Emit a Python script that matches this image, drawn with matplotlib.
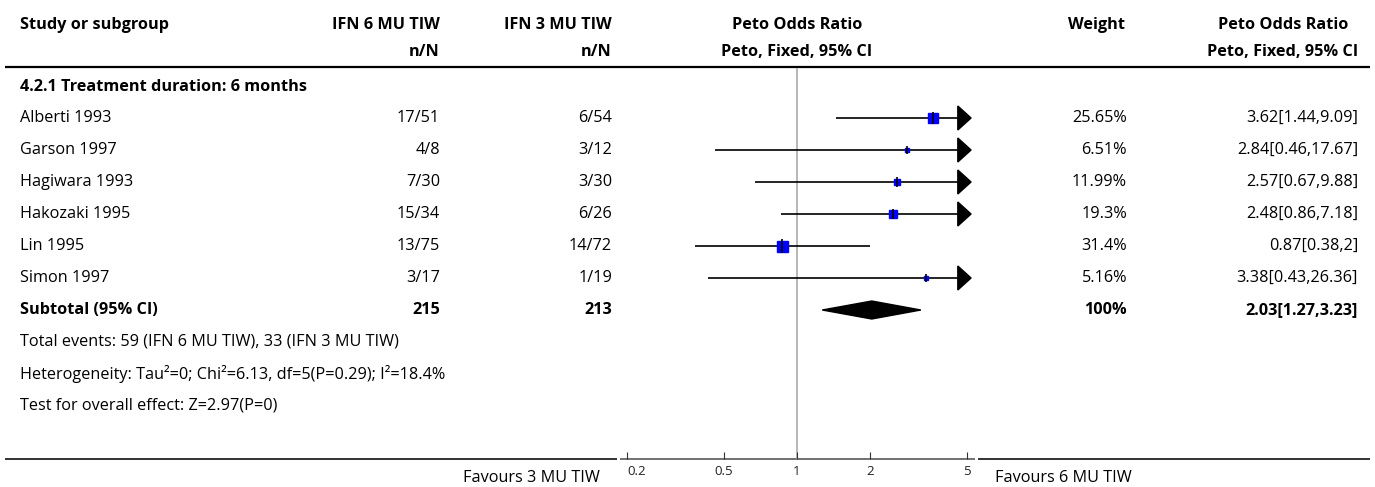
import numpy as np
import matplotlib.pyplot as plt
from matplotlib.patches import Polygon

plt.rcParams['font.family'] = ['Open Sans', 'DejaVu Sans']

# ---- data -----------------------------------------------------------------
studies = ["Alberti 1993", "Garson 1997", "Hagiwara 1993", "Hakozaki 1995", "Lin 1995", "Simon 1997"]
exp_nN = ["17/51", "4/8", "7/30", "15/34", "13/75", "3/17"]
ctl_nN = ["6/54", "3/12", "3/30", "6/26", "14/72", "1/19"]
or_est = [3.62, 2.84, 2.57, 2.48, 0.87, 3.38]
or_lo = [1.44, 0.46, 0.67, 0.86, 0.38, 0.43]
or_hi = [9.09, 17.67, 9.88, 7.18, 2.0, 26.36]
weights = [25.65, 6.51, 11.99, 19.3, 31.4, 5.16]
weight_labels = ["25.65%", "6.51%", "11.99%", "19.3%", "31.4%", "5.16%"]
ci_labels = ["3.62[1.44,9.09]", "2.84[0.46,17.67]", "2.57[0.67,9.88]",
             "2.48[0.86,7.18]", "0.87[0.38,2]", "3.38[0.43,26.36]"]
sub_est, sub_lo, sub_hi = 2.03, 1.27, 3.23
sub_exp_N, sub_ctl_N = "215", "213"
sub_weight, sub_ci = "100%", "2.03[1.27,3.23]"
ticks = [0.2, 0.5, 1, 2, 5]
tick_labels = ["0.2", "0.5", "1", "2", "5"]
footnotes = ["Total events: 59 (IFN 6 MU TIW), 33 (IFN 3 MU TIW)",
             "Heterogeneity: Tau\u00b2=0; Chi\u00b2=6.13, df=5(P=0.29); I\u00b2=18.4%",
             "Test for overall effect: Z=2.97(P=0)"]

W, H = 1375, 487
fig = plt.figure(figsize=(W / 100, H / 100), dpi=100)

# background axes in pixel coordinates for text/rules
bg = fig.add_axes([0, 0, 1, 1])
bg.set_xlim(0, W)
bg.set_ylim(H, 0)
bg.axis('off')

FS = 11.7
# header
hy1, hy2 = 25, 52
bg.text(20, hy1, "Study or subgroup", fontsize=FS, fontweight='bold', va='center', ha='left')
bg.text(440, hy1, "IFN 6 MU TIW", fontsize=FS, fontweight='bold', va='center', ha='right')
bg.text(440, hy2, "n/N", fontsize=FS, fontweight='bold', va='center', ha='right')
bg.text(612, hy1, "IFN 3 MU TIW", fontsize=FS, fontweight='bold', va='center', ha='right')
bg.text(612, hy2, "n/N", fontsize=FS, fontweight='bold', va='center', ha='right')
bg.text(797, hy1, "Peto Odds Ratio", fontsize=FS, fontweight='bold', va='center', ha='center')
bg.text(797, hy2, "Peto, Fixed, 95% CI", fontsize=FS, fontweight='bold', va='center', ha='center')
bg.text(1097, hy1, "Weight", fontsize=FS, fontweight='bold', va='center', ha='center')
bg.text(1283, hy1, "Peto Odds Ratio", fontsize=FS, fontweight='bold', va='center', ha='center')
bg.text(1358, hy2, "Peto, Fixed, 95% CI", fontsize=FS, fontweight='bold', va='center', ha='right')
bg.plot([5, 1370], [67, 67], color='black', lw=1.6, solid_capstyle='butt')

bg.text(20, 87, "4.2.1 Treatment duration: 6 months", fontsize=FS, fontweight='bold', va='center')

row0, step = 118, 32
rows = [row0 + i * step for i in range(len(studies))]
for i, y in enumerate(rows):
    bg.text(20, y, studies[i], fontsize=FS, va='center')
    bg.text(440, y, exp_nN[i], fontsize=FS, va='center', ha='right')
    bg.text(612, y, ctl_nN[i], fontsize=FS, va='center', ha='right')
    bg.text(1127, y, weight_labels[i], fontsize=FS, va='center', ha='right')
    bg.text(1358, y, ci_labels[i], fontsize=FS, va='center', ha='right')

ys = row0 + len(studies) * step
bg.text(20, ys, "Subtotal (95% CI)", fontsize=FS, fontweight='bold', va='center')
bg.text(440, ys, sub_exp_N, fontsize=FS, fontweight='bold', va='center', ha='right')
bg.text(612, ys, sub_ctl_N, fontsize=FS, fontweight='bold', va='center', ha='right')
bg.text(1127, ys, sub_weight, fontsize=FS, fontweight='bold', va='center', ha='right')
bg.text(1358, ys, sub_ci, fontsize=FS, fontweight='bold', va='center', ha='right')

for k, t in enumerate(footnotes):
    bg.text(20, ys + (k + 1) * step, t, fontsize=FS, va='center')

# bottom rule (broken around the scale)
bg.plot([5, 617], [459, 459], color='#222222', lw=1.3, solid_capstyle='butt')
bg.plot([978, 1370], [459, 459], color='#222222', lw=1.3, solid_capstyle='butt')
bg.plot([620, 975], [459, 459], color='#666666', lw=1.3, solid_capstyle='butt')
bg.text(600, 478, "Favours 3 MU TIW", fontsize=FS, va='center', ha='right')
bg.text(995, 478, "Favours 6 MU TIW", fontsize=FS, va='center', ha='left')

# forest axes: log scale, 0.2..5 over px 627..967, rows in pixel units
x0, x1, ytop, ybot = 627, 967, 68, 459
ax = fig.add_axes([x0 / W, (H - ybot) / H, (x1 - x0) / W, (ybot - ytop) / H])
ax.set_xscale('log')
ax.set_xlim(ticks[0], ticks[-1])
ax.set_ylim(ybot, ytop)
ax.patch.set_alpha(0)
for s in ['top', 'right', 'left', 'bottom']:
    ax.spines[s].set_visible(False)
ax.set_yticks([])
ax.set_xticks(ticks)
ax.set_xticklabels(tick_labels, fontsize=9.5, color='#222222')
ax.get_xticklabels()[0].set_ha('left')
ax.minorticks_off()
ax.tick_params(axis='x', direction='in', length=5, width=0.8, pad=4, color='#333333')
ax.axvline(1, color='#aaaaaa', lw=1.2, zorder=1)

xmin, xmax = ticks[0], ticks[-1]
# arrow geometry in log-units
lmax = np.log(xmax)
lspan = np.log(xmax) - np.log(xmin)
for i, y in enumerate(rows):
    lo = max(or_lo[i], xmin)
    hi = min(or_hi[i], xmax)
    ax.plot([lo, hi], [y, y], color='black', lw=1.2, zorder=2, solid_capstyle='butt')
    if or_hi[i] > xmax:
        base = np.exp(lmax - 0.027 * lspan)
        tip = np.exp(lmax + 0.012 * lspan)
        ax.add_patch(Polygon([[base, y - 12], [tip, y], [base, y + 12]], closed=True,
                             facecolor='black', edgecolor='black', clip_on=False, zorder=3))
    side = 3 + 8 * weights[i] / max(weights)
    ax.plot(or_est[i], y, marker='s', ms=side * 0.72, color='#0000ff', mec='#0000ff', zorder=4)
    ax.plot(or_est[i], y, marker='|', ms=(side + 3) * 0.72, mew=1.2, color='black', zorder=5)

# subtotal diamond
ax.add_patch(Polygon([[sub_lo, ys], [sub_est, ys - 9], [sub_hi, ys], [sub_est, ys + 9]],
                     closed=True, facecolor='black', edgecolor='black', zorder=4))

fig.savefig("out.png", dpi=100)
